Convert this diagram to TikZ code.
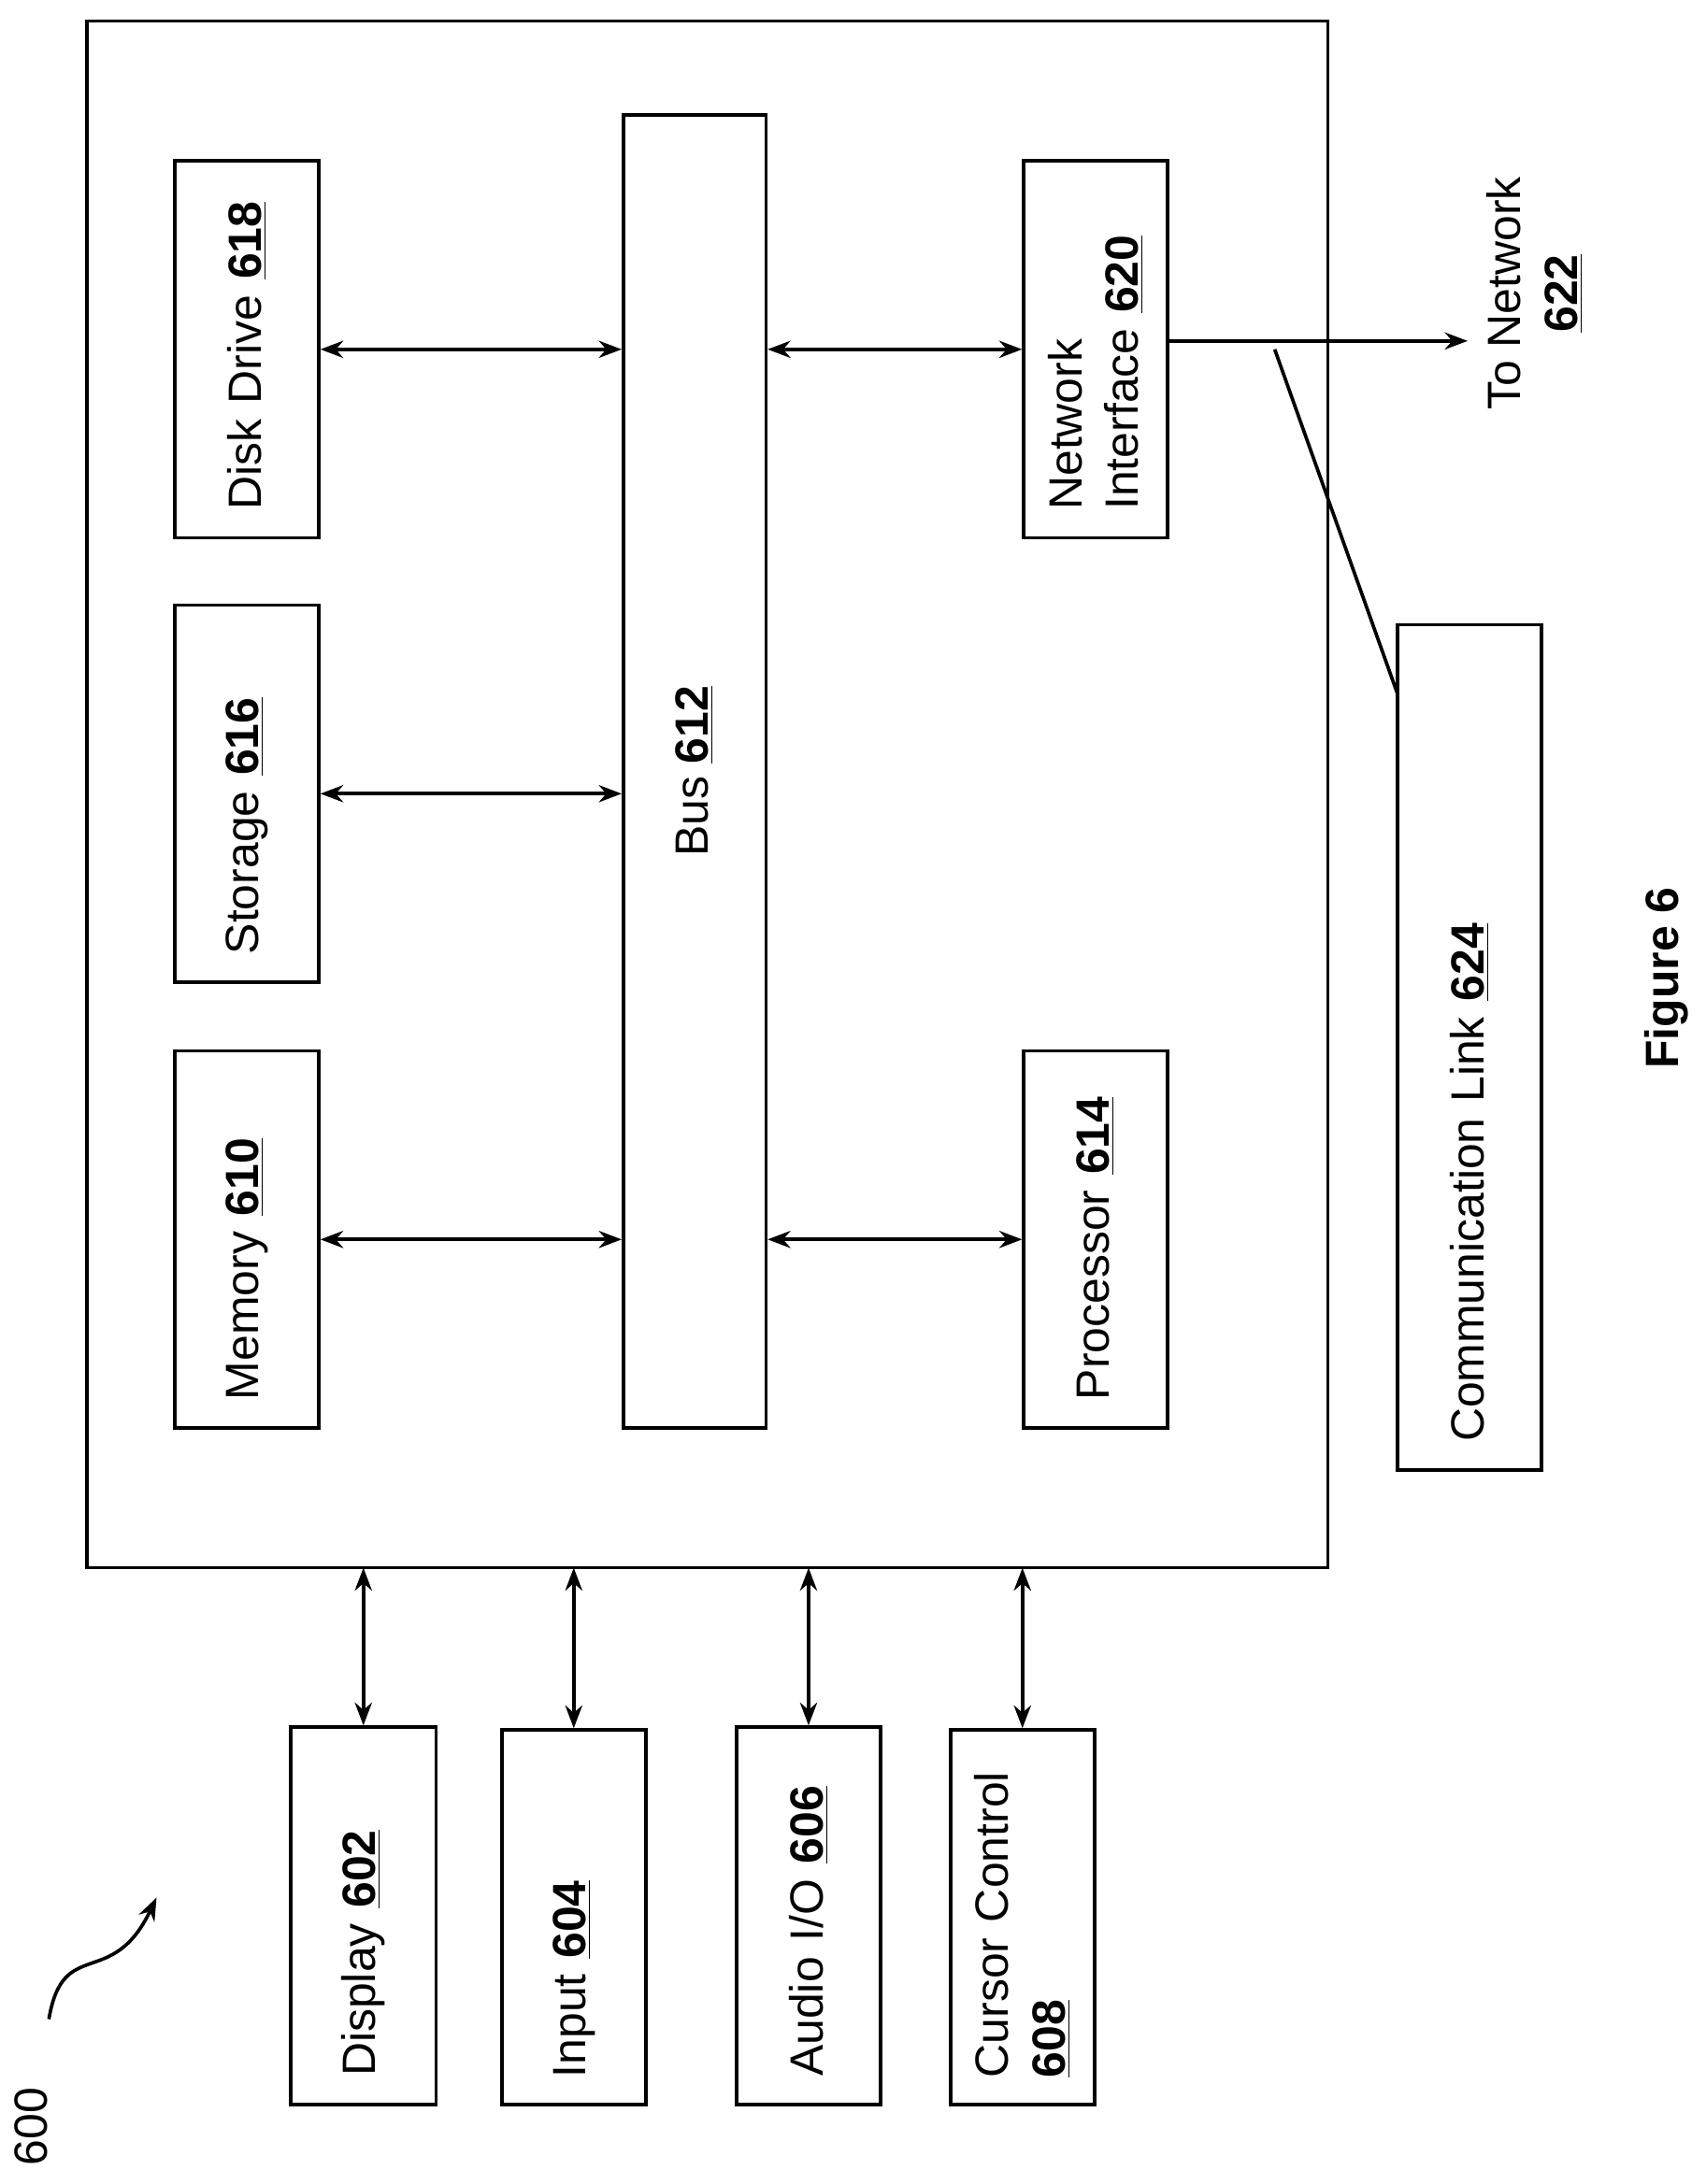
\documentclass[tikz,border=0pt]{standalone}
\usepackage{fontspec}
\setmainfont{Liberation Sans}
\usetikzlibrary{positioning, arrows.meta}

\newcommand{\num}[1]{\textbf{\underline{#1}}}

\begin{document}
\begin{tikzpicture}[x=0.02cm, y=-0.02cm, >=Stealth, line width=1.4pt,
    every node/.style={font=\fontsize{19}{23}\selectfont},
    unit/.style={draw, rotate=90, minimum width=5.4cm, minimum height=2.06cm,
      text width=4.6cm, align=left, inner sep=0pt},
    link/.style={<->, line width=1.4pt}]
    \useasboundingbox (0,0) rectangle (1220,1563);
    % System box
    \draw (62,15) rectangle (950,1122);
    \coordinate (sysbot) at (500,1122);

    % Units inside
    \node[unit] (disk) at (176.5,250) {Disk Drive \num{618}};
    \node[unit] (stor) at (176.5,568) {Storage \num{616}};
    \node[unit] (mem) at (176.5,887) {Memory \num{610}};
    \node[draw, rotate=90, minimum width=18.8cm, minimum height=2.04cm] (bus) at (497,552) {Bus \num{612}};
    \node[unit] (ni) at (784,250) {Network\\Interface \num{620}};
    \node[unit] (proc) at (784,887) {Processor \num{614}};
    \node[unit, minimum width=12.1cm, text width=11.3cm] (comm) at (1051.5,749.5) {Communication Link \num{624}};

    % Bus connections
    \draw[link] (disk.south) -- (disk.south -| bus.north);
    \draw[link] (stor.south) -- (stor.south -| bus.north);
    \draw[link] (mem.south) -- (mem.south -| bus.north);
    \draw[link] (ni.north) -- (ni.north -| bus.south);
    \draw[link] (proc.north) -- (proc.north -| bus.south);

    % Network
    \coordinate (net) at (1050,244);
    \node[rotate=90, align=center] (netlbl) at (1098,210) {To Network\\\num{622}};
    \draw[->] (ni.south |- net) -- (net);
    \coordinate (tap) at (912,250);
    \coordinate (lk) at (1000,497);
    \draw (tap) -- (lk);

    % Peripherals
    \node[unit, minimum width=5.4cm, minimum height=2.08cm] (disp) at (260,1371) {Display \num{602}};
    \node[unit, minimum width=5.36cm] (inp) at (410.5,1372) {Input \num{604}};
    \node[unit] (audio) at (578.5,1371) {Audio I/O \num{606}};
    \node[unit, minimum width=5.36cm] (cur) at (731.5,1372) {Cursor Control\\\num{608}};
    \foreach \p in {disp, inp, audio, cur}
      \draw[link] (\p.east) -- (\p.east |- sysbot);

    % Labels
    \node[rotate=90, font=\fontsize{19}{23}\selectfont\bfseries] (fig) at (1192,700) {Figure 6};
    \node[rotate=90] (ref) at (22,1522) {600};
    \draw[->] (35,1445) .. controls (45,1385) and (80,1425) .. (112,1358);
\end{tikzpicture}
\end{document}
